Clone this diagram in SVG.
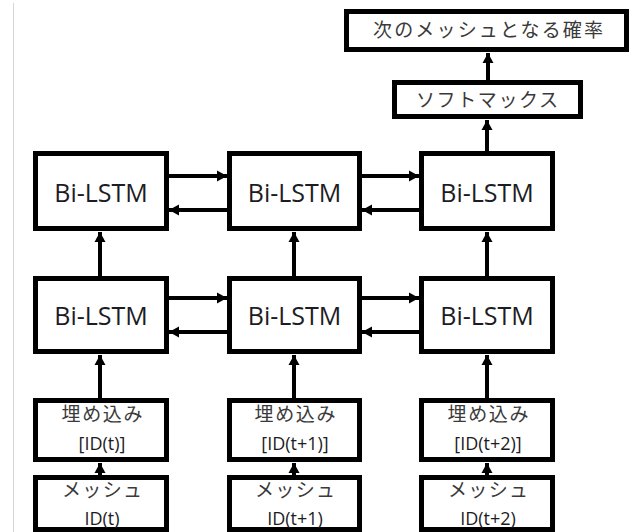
<svg xmlns="http://www.w3.org/2000/svg" width="636" height="532" viewBox="0 0 636 532">
<defs>
<style>
.box{fill:#fff;stroke:#000;stroke-width:5}
.lstm{font-family:"Open Sans","Noto Sans",sans-serif;font-size:25px;fill:#1c1c24;text-anchor:middle}
.jp{font-family:"Noto Sans CJK JP",sans-serif;font-size:19px;fill:#3a3a3a;text-anchor:middle}
.id{font-family:"Open Sans","Noto Sans",sans-serif;font-size:18px;fill:#1c1c24;text-anchor:middle}
.arr{stroke:#000;stroke-width:4;fill:none;marker-end:url(#ah)}
</style>
<marker id="ah" markerUnits="userSpaceOnUse" markerWidth="12" markerHeight="12" refX="10" refY="6" orient="auto">
<path d="M0,0.5 L10,6 L0,11.5 Z" fill="#000"/>
</marker>
</defs>
<rect width="636" height="532" fill="#fff"/>
<line x1="13.5" y1="3" x2="13.5" y2="532" stroke="#d6d6d6" stroke-width="1"/>

<g id="connectors">
<line class="arr" x1="488" y1="80" x2="488" y2="53"/>
<line class="arr" x1="487" y1="151" x2="487" y2="120"/>
<line class="arr" x1="169" y1="176" x2="227" y2="176"/>
<line class="arr" x1="227" y1="210" x2="169" y2="210"/>
<line class="arr" x1="362" y1="176" x2="419" y2="176"/>
<line class="arr" x1="419" y1="210" x2="362" y2="210"/>
<line class="arr" x1="169" y1="298" x2="227" y2="298"/>
<line class="arr" x1="227" y1="332" x2="169" y2="332"/>
<line class="arr" x1="362" y1="298" x2="419" y2="298"/>
<line class="arr" x1="419" y1="332" x2="362" y2="332"/>
<line class="arr" x1="100" y1="276" x2="100" y2="232"/>
<line class="arr" x1="294" y1="276" x2="294" y2="232"/>
<line class="arr" x1="487" y1="276" x2="487" y2="232"/>
<line class="arr" x1="100" y1="398" x2="100" y2="355"/>
<line class="arr" x1="294" y1="398" x2="294" y2="355"/>
<line class="arr" x1="487" y1="398" x2="487" y2="355"/>
<line class="arr" x1="100" y1="475" x2="100" y2="463"/>
<line class="arr" x1="294" y1="475" x2="294" y2="463"/>
<line class="arr" x1="487" y1="475" x2="487" y2="463"/>
</g>

<g id="prob">
<rect class="box" x="346.5" y="11.5" width="280" height="38"/>
<text class="jp" x="488" y="37" textLength="230" lengthAdjust="spacing">次のメッシュとなる確率</text>
</g>
<g id="softmax">
<rect class="box" x="394.5" y="82.5" width="186" height="34"/>
<text class="jp" x="487" y="107" textLength="142" lengthAdjust="spacing">ソフトマックス</text>
</g>

<g id="lstm2-1"><rect class="box" x="35.5" y="153.5" width="131" height="75"/><text class="lstm" x="101" y="202">Bi-LSTM</text></g>
<g id="lstm2-2"><rect class="box" x="229.5" y="153.5" width="130" height="75"/><text class="lstm" x="294.5" y="202">Bi-LSTM</text></g>
<g id="lstm2-3"><rect class="box" x="421.5" y="153.5" width="131" height="75"/><text class="lstm" x="487" y="202">Bi-LSTM</text></g>

<g id="lstm1-1"><rect class="box" x="35.5" y="278.5" width="131" height="73"/><text class="lstm" x="101" y="325">Bi-LSTM</text></g>
<g id="lstm1-2"><rect class="box" x="229.5" y="278.5" width="130" height="73"/><text class="lstm" x="294.5" y="325">Bi-LSTM</text></g>
<g id="lstm1-3"><rect class="box" x="421.5" y="278.5" width="131" height="73"/><text class="lstm" x="487" y="325">Bi-LSTM</text></g>

<g id="emb1"><rect class="box" x="35.5" y="400.5" width="131" height="59"/>
<text class="jp" x="102" y="421" textLength="81" lengthAdjust="spacing">埋め込み</text>
<text class="id" x="102" y="450">[ID(t)]</text></g>
<g id="emb2"><rect class="box" x="229.5" y="400.5" width="130" height="59"/>
<text class="jp" x="295" y="421" textLength="81" lengthAdjust="spacing">埋め込み</text>
<text class="id" x="295" y="450">[ID(t+1)]</text></g>
<g id="emb3"><rect class="box" x="421.5" y="400.5" width="131" height="59"/>
<text class="jp" x="488" y="421" textLength="81" lengthAdjust="spacing">埋め込み</text>
<text class="id" x="488" y="450">[ID(t+2)]</text></g>

<g id="mesh1"><rect class="box" x="35.5" y="477.5" width="131" height="52"/>
<text class="jp" x="102" y="497" textLength="80" lengthAdjust="spacing">メッシュ</text>
<text class="id" x="102" y="525">ID(t)</text></g>
<g id="mesh2"><rect class="box" x="229.5" y="477.5" width="130" height="52"/>
<text class="jp" x="295" y="497" textLength="80" lengthAdjust="spacing">メッシュ</text>
<text class="id" x="295" y="525">ID(t+1)</text></g>
<g id="mesh3"><rect class="box" x="421.5" y="477.5" width="131" height="52"/>
<text class="jp" x="488" y="497" textLength="80" lengthAdjust="spacing">メッシュ</text>
<text class="id" x="488" y="525">ID(t+2)</text></g>
</svg>
